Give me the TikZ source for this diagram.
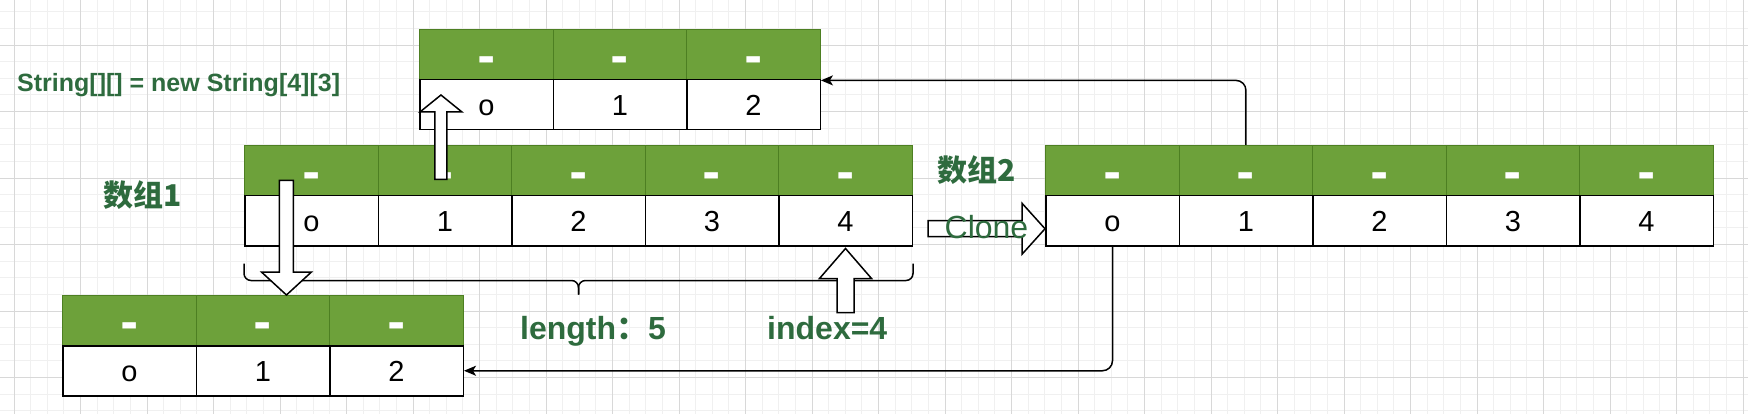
\documentclass[tikz,border=0pt]{standalone}
\usepackage{fontspec}
\setmainfont{Liberation Sans}
\newfontfamily\cjk{Noto Sans CJK SC}
\newfontfamily\dashfont{DejaVu Sans}
\usetikzlibrary{calc,arrows.meta}
\definecolor{cellgreen}{HTML}{6DA13A}
\definecolor{cellgreenline}{HTML}{4D7F22}
\definecolor{labelgreen}{HTML}{2E6B3E}
\definecolor{gridfine}{HTML}{F0F0F0}
\definecolor{gridbold}{HTML}{D8D8D8}

\tikzset{
  headcell/.style={draw=cellgreenline, fill=cellgreen, line width=1.4pt,
    minimum width=133.5pt, minimum height=50pt, inner sep=0pt, anchor=north west,
    text=white, font=\dashfont\bfseries\fontsize{44}{50}\selectfont,
    text height=35pt, text depth=0pt},
  valcell/.style={draw=black, fill=white, line width=1.5pt,
    minimum width=133.5pt, minimum height=50pt, inner sep=0pt, anchor=north west,
    font=\fontsize{29}{34}\selectfont, text height=21pt, text depth=0pt},
  greenlabel/.style={text=labelgreen, font=\bfseries\fontsize{32}{38}\selectfont, inner sep=0pt},
  link/.style={line width=1.5pt, rounded corners=10pt,
    -{Stealth[length=12pt,width=10pt,inset=3pt]}},
  blockline/.style={draw=black, fill=white, line width=1.5pt},
  bracket/.style={line width=1.5pt, rounded corners=7pt},
}

% hollow block arrow: start, tip, shaft half width, head half width, head length
\newcommand{\blockarrow}[5]{%
  \coordinate (ba-hb) at ($(#2)!#5!(#1)$);
  \draw[blockline] ($(#1)!#3!90:(#2)$) -- ($(ba-hb)!#3!90:(#2)$)
    -- ($(ba-hb)!#4!90:(#2)$) -- (#2) -- ($(ba-hb)!#4!-90:(#2)$)
    -- ($(ba-hb)!#3!-90:(#2)$) -- ($(#1)!#3!-90:(#2)$) -- cycle;}

\begin{document}
\begin{tikzpicture}[x=1pt, y=-1pt]
    \useasboundingbox (0,0) rectangle (1748,414);
    \fill[white] (0,0) rectangle (1748,414);

    % Canvas grid
    \foreach \x in {-2.625,14,...,1750} \draw[gridfine, line width=0.8pt] (\x,0) -- (\x,414);
    \foreach \y in {11.75,28.375,...,414} \draw[gridfine, line width=0.8pt] (0,\y) -- (1748,\y);
    \foreach \x in {14,80.5,...,1750} \draw[gridbold, line width=0.9pt] (\x,0) -- (\x,414);
    \foreach \y in {-21.5,45,...,414} \draw[gridbold, line width=0.9pt] (0,\y) -- (1748,\y);

    % Top array — 3 cells
    \foreach \i/\v in {0/o,1/1,2/2} {
        \node[headcell] (top-h\i) at ({419+133.5*\i}, 29) {-};
        \node[valcell]  (top-v\i) at ({419+133.5*\i}, 79) {\v};
    }

    % Array 1 — 5 cells
    \foreach \i/\v in {0/o,1/1,2/2,3/3,4/4} {
        \node[headcell] (main-h\i) at ({244+133.5*\i}, 145) {-};
        \node[valcell]  (main-v\i) at ({244+133.5*\i}, 195) {\v};
    }

    % Array 2 — the clone
    \foreach \i/\v in {0/o,1/1,2/2,3/3,4/4} {
        \node[headcell] (arr-h\i) at ({1045+133.5*\i}, 145) {-};
        \node[valcell]  (arr-v\i) at ({1045+133.5*\i}, 195) {\v};
    }

    % Bottom array — 3 cells
    \foreach \i/\v in {0/o,1/1,2/2} {
        \node[headcell] (bot-h\i) at ({62+133.5*\i}, 295) {-};
        \node[valcell]  (bot-v\i) at ({62+133.5*\i}, 345) {\v};
    }

    % Clone shares the inner arrays
    \draw[link] (arr-h1.north) |- (top-h2.south east);
    \draw[link] (arr-v0.south) |- (bot-v2.east);

    % Brace under array 1
    \coordinate (br-l) at ($(main-v0.south west)+(0,17)$);
    \coordinate (br-r) at ($(main-v4.south east)+(0,17)$);
    \coordinate (br-m) at ($(br-l)!0.5!(br-r)+(0,31)$);
    \draw[bracket] (br-l) -- ++(0,17) -| (br-m);
    \draw[bracket] (br-r) -- ++(0,17) -| (br-m);

    % Block arrows
    \coordinate (up1-s) at ($(main-h1.south)+(-4,-17)$);
    \coordinate (up1-t) at ($(up1-s |- top-v0.north)+(0,16)$);
    \blockarrow{up1-s}{up1-t}{6pt}{21pt}{17pt}
    \coordinate (dn0-s) at ($(main-h0.south)+(-25,-16)$);
    \coordinate (dn0-t) at (dn0-s |- bot-h1.north);
    \blockarrow{dn0-s}{dn0-t}{7pt}{25pt}{23pt}
    \coordinate (ix-s) at ($(main-v4.south)+(0,66)$);
    \coordinate (ix-t) at ($(main-v4.south)+(0,2)$);
    \blockarrow{ix-s}{ix-t}{8.5pt}{26pt}{30pt}
    \coordinate (cl-s) at ($(main-v4.east)+(15,8)$);
    \coordinate (cl-t) at ($(arr-v0.west)+(0,8)$);
    \blockarrow{cl-s}{cl-t}{8pt}{25.5pt}{23pt}

    % Labels
    \node[greenlabel, font=\bfseries\fontsize{25}{29}\selectfont, anchor=base west]
        (decl) at (17,92) {String[][] = new String[4][3]};
    \node[greenlabel, font=\cjk\bfseries\fontsize{30}{36}\selectfont] (arr1-name) at (143,195) {数组1};
    \node[greenlabel, font=\cjk\bfseries\fontsize{30}{36}\selectfont] (arr2-name) at (977,170) {数组2};
    \node[greenlabel, anchor=base west] (len-label) at (520,339) {length{\cjk ：}5};
    \node[greenlabel, anchor=base west] (idx-label) at (767,339) {index=4};
    \node[greenlabel, font=\fontsize{32}{38}\selectfont] (clone-label)
        at ($(cl-s)!0.5!(cl-t)+(0,-2)$) {Clone};
\end{tikzpicture}
\end{document}
